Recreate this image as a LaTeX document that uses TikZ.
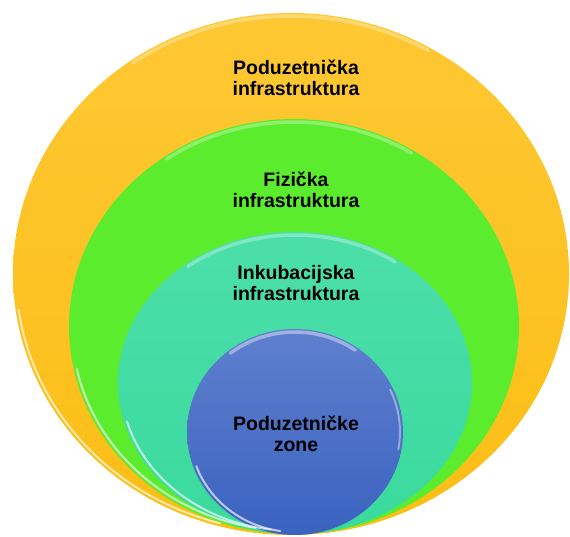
\documentclass[tikz,border=0pt]{standalone}
\usepackage{fontspec}
\setmainfont{Liberation Sans}
\usepackage{tikz}
\usetikzlibrary{shapes.geometric}
\usepackage{xcolor}
\definecolor{zoneorange}{RGB}{252,190,22}
\definecolor{zoneorangetop}{RGB}{254,200,52}
\definecolor{zonegreen}{RGB}{92,236,46}
\definecolor{zoneteal}{RGB}{58,218,158}
\definecolor{zonetealtop}{RGB}{76,222,170}
\definecolor{zoneblue}{RGB}{58,98,192}
\definecolor{zonebluetop}{RGB}{96,128,206}

\begin{document}
\begin{tikzpicture}[
  x=1pt, y=1pt,
  ring/.style={ellipse, draw=none, inner sep=0pt, outer sep=0pt},
  gloss/.style={white, line width=2pt, opacity=0.65, line cap=round},
  topgloss/.style={white, line width=3.5pt, opacity=0.3, line cap=round},
  lbl/.style={align=center, font=\fontsize{19.5}{20.5}\selectfont\bfseries,
              text=black, inner sep=0pt},
]
  \useasboundingbox (0,0) rectangle (570,536);

  % rings, largest first
  \node[ring, top color=zoneorangetop, bottom color=zoneorange,
        minimum width=556, minimum height=522] (outer) at (291,262) {};
  \node[ring, fill=zonegreen,
        minimum width=450, minimum height=415] (fiz) at (294,209.5) {};
  \node[ring, top color=zonetealtop, bottom color=zoneteal,
        minimum width=354, minimum height=302] (ink) at (295,153) {};
  \node[ring, top color=zonebluetop, bottom color=zoneblue,
        minimum width=216, minimum height=206] (zone) at (295,104) {};

  % glossy rims
  \draw[topgloss] ([shift={(60:275 and 258)}]outer.center)
    arc[start angle=60, end angle=125, x radius=275, y radius=258];
  \draw[gloss] ([shift={(188:275 and 258)}]outer.center)
    arc[start angle=188, end angle=255, x radius=275, y radius=258];
  \draw[topgloss] ([shift={(58:222 and 204.5)}]fiz.center)
    arc[start angle=58, end angle=125, x radius=222, y radius=204.5];
  \draw[gloss] ([shift={(192:222 and 204.5)}]fiz.center)
    arc[start angle=192, end angle=260, x radius=222, y radius=204.5];
  \draw[topgloss] ([shift={(55:174 and 148)}]ink.center)
    arc[start angle=55, end angle=128, x radius=174, y radius=148];
  \draw[gloss] ([shift={(195:174 and 148)}]ink.center)
    arc[start angle=195, end angle=262, x radius=174, y radius=148];
  \draw[topgloss, opacity=0.4] ([shift={(55:105 and 100)}]zone.center)
    arc[start angle=55, end angle=128, x radius=105, y radius=100];
  \draw[gloss] ([shift={(200:105 and 100)}]zone.center)
    arc[start angle=200, end angle=262, x radius=105, y radius=100];
  \draw[gloss, opacity=0.4] ([shift={(-10:105 and 100)}]zone.center)
    arc[start angle=-10, end angle=25, x radius=105, y radius=100];

  % labels
  \node[lbl] (outerlbl) at (296,458) {Poduzetnička\\infrastruktura};
  \node[lbl] (fizlbl) at (296,346) {Fizička\\infrastruktura};
  \node[lbl] (inklbl) at (296,253) {Inkubacijska\\infrastruktura};
  \node[lbl] (zonelbl) at (296,102) {Poduzetničke\\zone};
\end{tikzpicture}
\end{document}
